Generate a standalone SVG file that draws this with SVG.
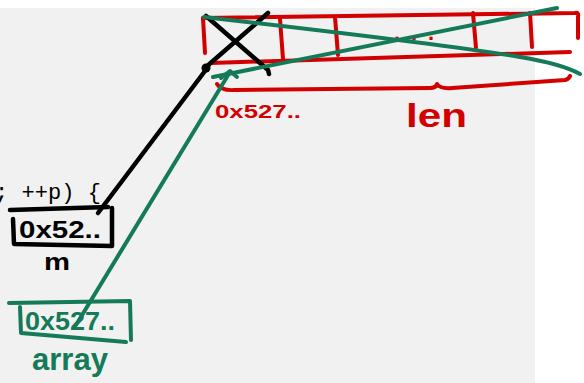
<svg xmlns="http://www.w3.org/2000/svg" width="584" height="383" viewBox="0 0 584 383">
<style>
.r{stroke:#d20000;fill:none;stroke-width:4;stroke-linecap:round;stroke-linejoin:round}
.g{stroke:#147a57;fill:none;stroke-width:4;stroke-linecap:round;stroke-linejoin:round}
.k{stroke:#000;fill:none;stroke-width:4.5;stroke-linecap:round;stroke-linejoin:round}
.hr{fill:#d20000;font-family:"Liberation Sans",Arial,sans-serif;font-weight:bold}
.hg{fill:#147a57;font-family:"Liberation Sans",Arial,sans-serif;font-weight:bold}
.hk{fill:#000;font-family:"Liberation Sans",Arial,sans-serif;font-weight:bold}
</style>
<rect x="0" y="0" width="584" height="383" fill="#fff"/>
<rect x="0" y="8" width="535" height="375" fill="#f1f1f1"/>
<text x="-5" y="199" font-family="Liberation Mono,Courier New,monospace" font-size="22" fill="#000" textLength="106" lengthAdjust="spacing">; ++p) {</text>

<g id="array-cells">
  <path class="r" d="M203,18 L575,13 Q579,12 578,17 L578,38"/>
  <path class="r" d="M203,18 L205,53"/>
  <path class="r" d="M211,63 L570,52"/>
  <path class="r" d="M280,19 L283,59"/>
  <path class="r" d="M335,17 L338,55"/>
  <path class="r" d="M473,13 L476,48"/>
  <path class="r" d="M530,13 L532,47"/>
  <text class="hr" x="394" y="40" font-size="22" textLength="40" lengthAdjust="spacing">...</text>
  <path class="k" d="M206,16 L268,70 L269,74"/>
  <path class="k" d="M268,13 L206,67"/>
</g>

<g id="len-brace">
  <path class="r" d="M217,84 Q221,91 235,90 L430,88 Q436,88 437,84 Q440,89 452,88 L565,80 Q569,79 570,76"/>
  <text class="hr" x="215" y="118" font-size="19" textLength="86" lengthAdjust="spacingAndGlyphs">0x527..</text>
  <text class="hr" x="406" y="127" font-size="34" textLength="61" lengthAdjust="spacingAndGlyphs">len</text>
</g>

<g id="m">
  <path class="k" d="M10,210 L108,207"/>
  <path class="k" d="M13,219 L14,244 L112,246 L112,208"/>
  <text class="hk" x="19" y="238" font-size="24" textLength="82" lengthAdjust="spacingAndGlyphs">0x52..</text>
  <text class="hk" x="44" y="270" font-size="24" textLength="26" lengthAdjust="spacingAndGlyphs">m</text>
</g>

<g id="array">
  <path class="g" d="M9,303 L130,301 L131,340"/>
  <path class="g" d="M20,307 L21,333 L126,342"/>
  <text class="hg" x="25" y="330" font-size="25" textLength="90" lengthAdjust="spacingAndGlyphs">0x527..</text>
  <text class="hg" x="32" y="370" font-size="32" textLength="76" lengthAdjust="spacingAndGlyphs">array</text>
</g>

<g id="connectors">
  <path class="k" d="M98,213 L208,67"/>
  <circle cx="206" cy="68" r="4.5" fill="#000"/>
  <path class="g" d="M76,325 L230,72"/>
  <path class="g" d="M221,78 L230,71 L237,77"/>
  <path class="g" d="M204,17 C300,28 450,45 520,57 Q562,64 580,74"/>
  <path class="g" d="M213,77 L557,8"/>
</g>
</svg>
